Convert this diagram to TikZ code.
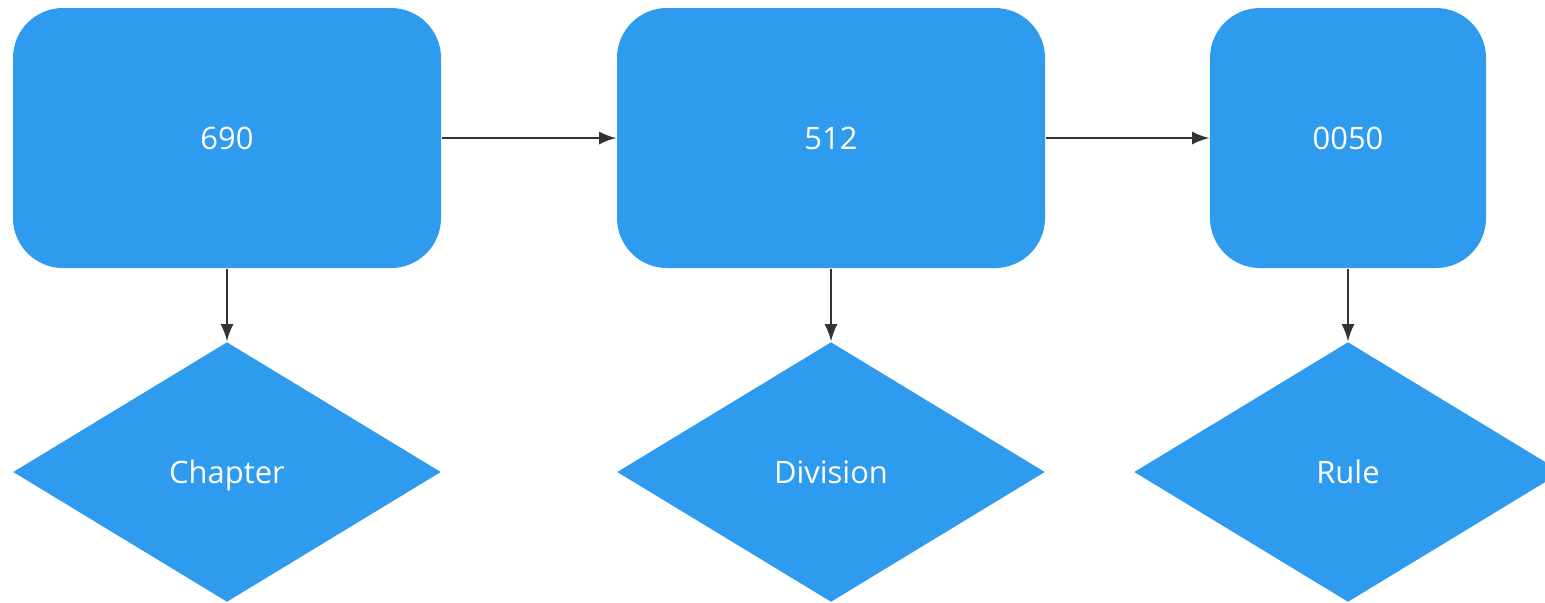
\documentclass[tikz,border=0pt]{standalone}
\usepackage{fontspec}
\setmainfont{Open Sans}
\usetikzlibrary{arrows,shapes,positioning}

\definecolor{boxblue}{HTML}{2E9BEF}
\definecolor{linegray}{HTML}{333333}

\tikzset{
  code/.style={fill=boxblue, rounded corners=0.5cm, minimum height=2.6cm, text=white, font=\fontsize{8.8}{10}\selectfont, inner sep=0pt, text height=1.6ex, text depth=0.4ex},
  kind/.style={diamond, fill=boxblue, minimum width=4.28cm, minimum height=2.6cm, aspect=1.65, inner sep=0pt, text=white, font=\fontsize{8.8}{10}\selectfont, text height=1.6ex, text depth=0.4ex},
  link/.style={-latex, draw=linegray, line width=0.7pt}
}

\begin{document}
\begin{tikzpicture}
      \useasboundingbox (0,0) rectangle (15.45,-6.02);
      \node[code, minimum width=4.28cm] (chapnum) at (2.27,-1.38) {690}; % chapter
      \node[code, minimum width=4.28cm] (divnum) at (8.31,-1.38) {512}; % division
      \node[code, minimum width=2.76cm] (rulenum) at (13.48,-1.38) {0050}; % rule
      \node[kind] (chap) at (2.27,-4.72) {Chapter};
      \node[kind] (div) at (8.31,-4.72) {Division};
      \node[kind] (rule) at (13.48,-4.72) {Rule};
      \draw[link] (chapnum) -- (divnum);
      \draw[link] (divnum) -- (rulenum);
      \draw[link] (chapnum) -- (chap);
      \draw[link] (divnum) -- (div);
      \draw[link] (rulenum) -- (rule);
    \end{tikzpicture}
\end{document}
